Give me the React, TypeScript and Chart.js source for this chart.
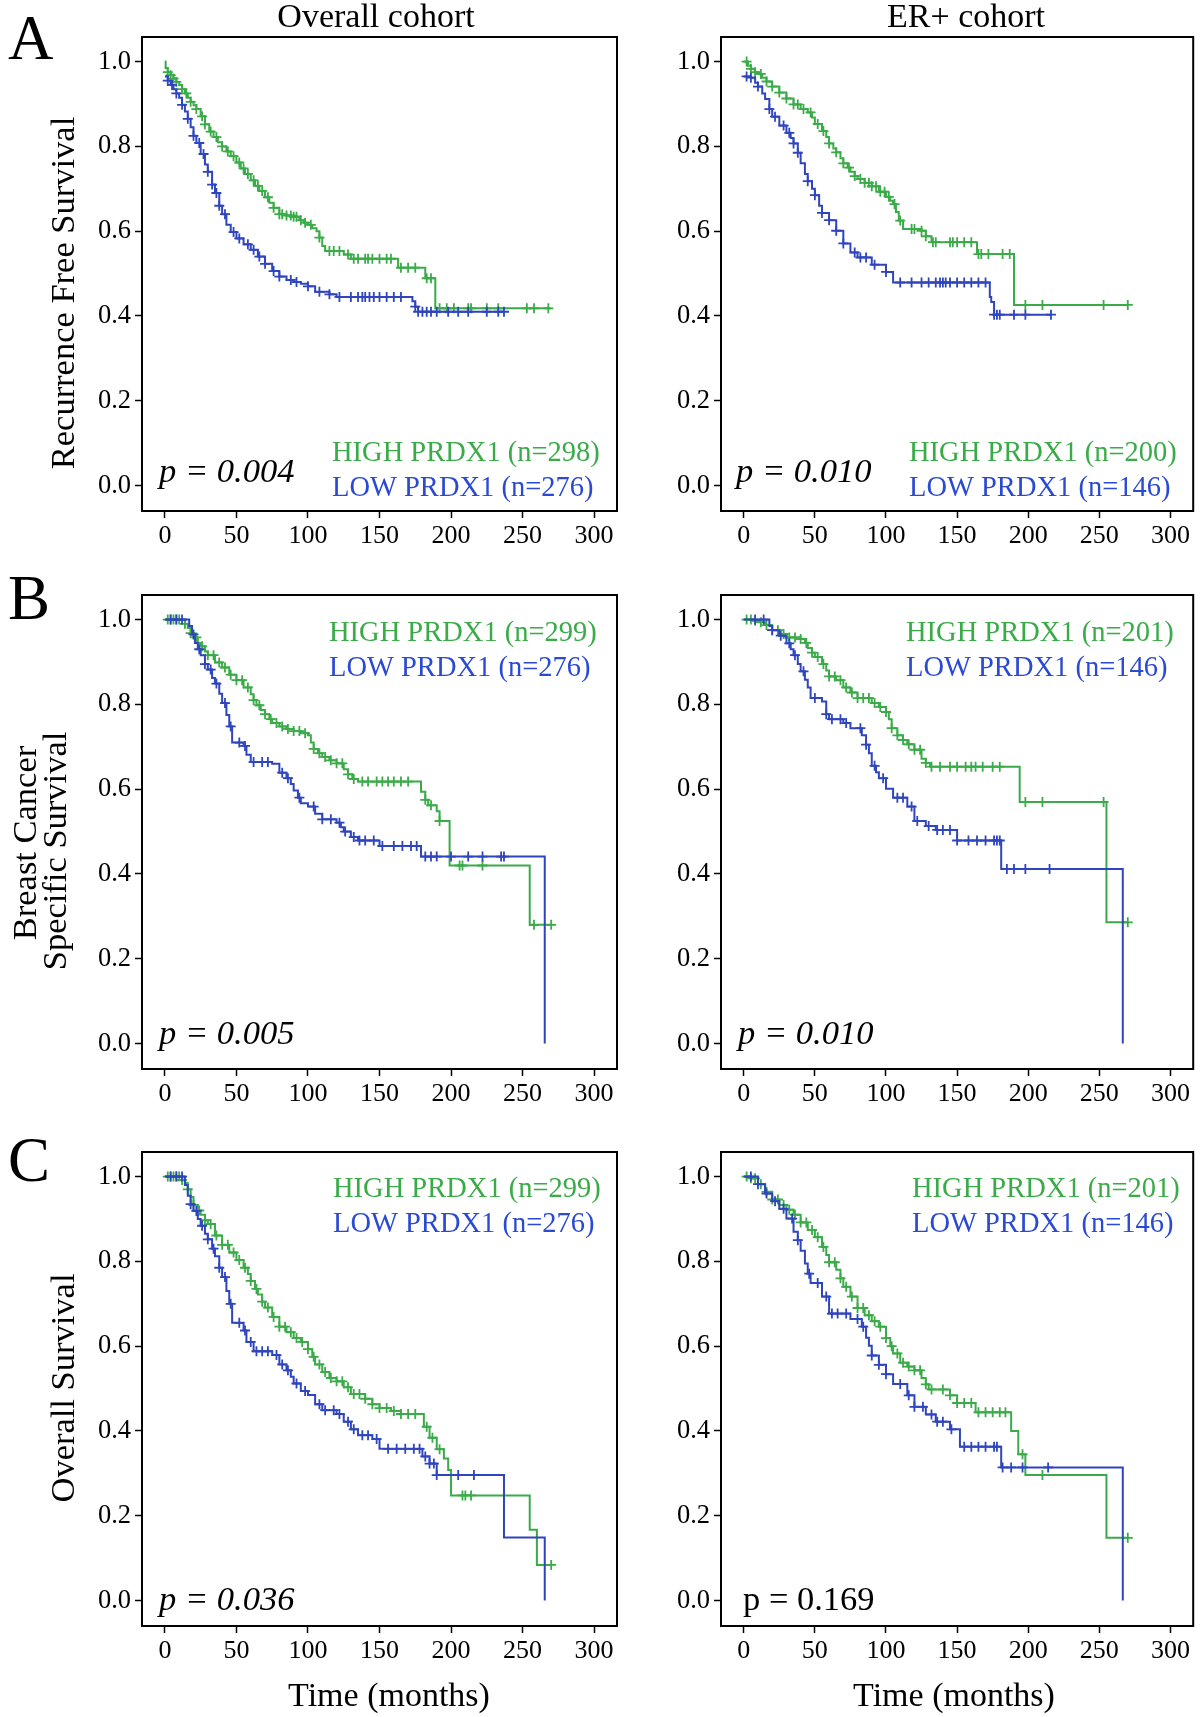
import React, { useEffect, useRef } from 'react';
import { Chart, registerables } from 'chart.js';

Chart.register(...registerables);

// ---------------- DATA ----------------
const xTickValues = [0, 50, 100, 150, 200, 250, 300];
const yTickValues = [0, 0.2, 0.4, 0.6, 0.8, 1.0];
const groupNames = ['HIGH PRDX1', 'LOW PRDX1'];
const columnTitles = ['Overall cohort', 'ER+ cohort'];
const rowLetters = ['A', 'B', 'C'];
const rowYTitles = [['Recurrence Free Survival'], ['Breast Cancer', 'Specific Survival'], ['Overall Survival']];
const xTitle = 'Time (months)';
const nHigh = [[298, 200], [299, 201], [299, 201]];
const nLow = [[276, 146], [276, 146], [276, 146]];
const pValues = [['0.004', '0.010'], ['0.005', '0.010'], ['0.036', '0.169']];
const pItalic = [[true, true], [true, true], [true, false]];

// Recurrence free survival, overall cohort
const rfsAllHigh = [[0,1.0],[0.5,0.985],[2,0.975],[4,0.968],[6,0.96],[8,0.952],[10,0.945],[12,0.935],[14,0.925],[16,0.915],[18,0.905],[20,0.897],[22,0.888],[25,0.871],[28,0.852],[31,0.835],[34,0.822],[37,0.81],[40,0.8],[43,0.788],[46,0.777],[50,0.762],[53,0.748],[56,0.735],[60,0.72],[63,0.707],[66,0.695],[70,0.68],[73,0.667],[76,0.655],[80,0.64],[85,0.637],[90,0.634],[94,0.626],[97,0.62],[100,0.615],[103,0.607],[106,0.6],[108,0.585],[110,0.565],[112,0.553],[122,0.553],[125,0.545],[130,0.535],[162,0.535],[163,0.514],[181,0.514],[182,0.489],[188.5,0.489],[189,0.418],[270,0.418]];
const rfsAllLow = [[0,0.965],[2,0.955],[4,0.945],[6,0.935],[8,0.925],[10,0.915],[12,0.898],[14,0.882],[16,0.865],[18,0.845],[20,0.825],[22,0.808],[25,0.782],[28,0.757],[30,0.74],[33,0.71],[35,0.69],[38,0.66],[40,0.64],[43,0.615],[46,0.598],[50,0.583],[55,0.569],[60,0.556],[65,0.54],[70,0.523],[75,0.506],[80,0.493],[85,0.485],[90,0.48],[95,0.476],[100,0.47],[105,0.457],[115,0.451],[120,0.445],[171,0.445],[173,0.435],[175,0.422],[177,0.41],[237,0.41]];
const rfsAllHighCens = [2,4,6,8,12,15,18,22,26,28,32,36,40,44,48,52,55,58,62,65,68,72,76,80,82,85,88,90,92,95,98,102,108,115,118,122,128,132,135,140,142,145,150,155,158,165,170,175,183,186,192,197,202,212,214,225,233,253,258,268];
const rfsAllLowCens = [2,5,8,12,16,20,24,27,30,33,36,38,42,48,52,58,62,66,70,76,80,88,92,100,108,115,122,130,135,138,140,143,146,150,155,160,165,175,177,180,183,186,190,198,205,212,225,233,237];

// Recurrence free survival, ER+ cohort
const rfsErHigh = [[0,1.0],[3,0.99],[5,0.983],[8,0.975],[10,0.971],[13,0.962],[16,0.953],[20,0.941],[25,0.927],[30,0.913],[35,0.899],[40,0.888],[45,0.88],[48,0.868],[50,0.853],[55,0.836],[58,0.822],[60,0.807],[63,0.795],[65,0.786],[68,0.772],[70,0.76],[73,0.75],[75,0.74],[78,0.73],[80,0.723],[85,0.714],[90,0.706],[95,0.693],[100,0.681],[103,0.672],[105,0.664],[107,0.645],[109,0.625],[112,0.605],[125,0.601],[128,0.588],[132,0.574],[163,0.574],[164,0.546],[189,0.546],[190,0.426],[270,0.426]];
const rfsErLow = [[0,0.965],[5,0.962],[8,0.95],[10,0.941],[13,0.925],[15,0.912],[18,0.888],[20,0.87],[25,0.849],[30,0.832],[33,0.82],[35,0.807],[38,0.785],[40,0.76],[43,0.735],[45,0.718],[48,0.7],[50,0.685],[53,0.66],[55,0.643],[60,0.626],[65,0.601],[70,0.571],[75,0.55],[80,0.538],[90,0.521],[100,0.504],[105,0.479],[172,0.479],[173,0.445],[174,0.433],[176,0.403],[216,0.403]];
const rfsErHighCens = [2,5,8,12,16,20,25,30,35,38,42,47,52,56,60,65,70,74,78,82,85,88,90,93,96,99,102,106,110,118,120,125,128,133,135,145,147,150,155,160,165,167,172,182,187,198,210,253,270];
const rfsErLowCens = [2,5,10,18,22,28,32,35,38,45,50,55,60,65,70,78,82,86,92,100,110,118,125,130,135,138,140,142,145,150,155,160,165,170,176,178,180,190,198,216];

// Breast cancer specific survival, overall cohort
const bcssAllHigh = [[0,1.0],[12,1.0],[14,0.99],[16,0.98],[18,0.968],[20,0.958],[23,0.945],[25,0.937],[28,0.925],[30,0.916],[35,0.899],[40,0.887],[45,0.87],[50,0.857],[55,0.84],[60,0.824],[62,0.81],[64,0.798],[67,0.787],[70,0.777],[73,0.765],[75,0.756],[80,0.748],[85,0.742],[90,0.737],[95,0.732],[100,0.727],[102,0.71],[104,0.695],[107,0.685],[110,0.676],[115,0.668],[120,0.661],[125,0.647],[128,0.635],[131,0.624],[135,0.618],[177,0.618],[179,0.594],[182,0.575],[184,0.562],[190,0.548],[192,0.525],[198,0.525],[199,0.42],[254,0.42],[255,0.28],[270,0.28]];
const bcssAllLow = [[0,1.0],[15,1.0],[17,0.985],[19,0.965],[21,0.945],[23,0.93],[25,0.916],[28,0.895],[30,0.882],[33,0.862],[35,0.849],[38,0.825],[40,0.803],[43,0.775],[45,0.748],[47,0.71],[55,0.702],[57,0.681],[60,0.664],[75,0.66],[80,0.639],[85,0.626],[88,0.612],[90,0.597],[93,0.58],[95,0.567],[100,0.559],[105,0.542],[110,0.529],[120,0.521],[123,0.51],[125,0.5],[130,0.487],[135,0.479],[150,0.466],[178,0.466],[179,0.441],[265,0.441],[265.5,0]];
const bcssAllHighCens = [2,4,6,8,10,14,18,22,26,30,34,38,42,46,50,54,58,62,66,70,74,78,82,86,90,94,98,104,108,112,116,120,124,128,132,138,142,148,152,156,160,165,170,182,186,192,206,208,222,258,270];
const bcssAllLowCens = [4,8,12,20,24,28,32,36,42,46,52,56,62,68,72,82,86,94,104,110,116,122,126,132,136,140,146,152,160,166,172,176,182,186,190,200,212,222,235,237];

// Breast cancer specific survival, ER+ cohort
const bcssErHigh = [[0,1.0],[5,1.0],[8,0.997],[10,0.994],[15,0.987],[20,0.975],[25,0.966],[30,0.958],[40,0.954],[43,0.945],[45,0.933],[48,0.922],[50,0.912],[55,0.895],[58,0.88],[60,0.866],[65,0.857],[70,0.84],[75,0.828],[80,0.815],[90,0.803],[95,0.794],[100,0.782],[102,0.765],[104,0.744],[108,0.727],[112,0.716],[115,0.706],[120,0.693],[125,0.672],[128,0.662],[131,0.653],[193,0.653],[194,0.57],[254,0.57],[255,0.286],[270,0.286]];
const bcssErLow = [[0,1.0],[15,1.0],[18,0.985],[20,0.975],[25,0.962],[30,0.944],[33,0.93],[35,0.916],[38,0.895],[40,0.878],[43,0.858],[45,0.84],[47,0.815],[55,0.807],[58,0.777],[60,0.765],[70,0.756],[75,0.744],[83,0.727],[86,0.705],[88,0.685],[90,0.655],[93,0.64],[95,0.626],[100,0.601],[105,0.58],[115,0.559],[120,0.525],[128,0.513],[135,0.504],[150,0.479],[180,0.479],[181,0.412],[266,0.412],[266.5,0]];
const bcssErHighCens = [2,5,8,12,16,20,24,28,32,36,40,44,48,52,56,60,64,68,72,76,80,84,88,92,96,100,104,108,112,116,120,124,128,132,138,145,150,156,160,163,168,175,180,198,210,253,270];
const bcssErLowCens = [8,14,20,26,32,36,42,50,58,62,68,72,82,86,92,98,108,112,118,122,130,136,140,145,150,158,164,170,176,178,180,185,190,198,215];

// Overall survival, overall cohort
const osAllHigh = [[0,1.0],[10,1.0],[12,0.992],[14,0.985],[16,0.97],[18,0.952],[20,0.933],[23,0.92],[25,0.91],[28,0.897],[30,0.888],[35,0.861],[40,0.839],[45,0.821],[50,0.803],[55,0.785],[58,0.77],[60,0.754],[63,0.735],[65,0.722],[68,0.705],[70,0.691],[75,0.669],[80,0.646],[85,0.633],[90,0.619],[95,0.61],[100,0.593],[103,0.575],[105,0.557],[110,0.539],[115,0.525],[120,0.517],[125,0.503],[130,0.487],[140,0.476],[145,0.463],[150,0.454],[158,0.447],[165,0.44],[179,0.44],[181,0.41],[185,0.384],[190,0.357],[195,0.335],[198,0.308],[200,0.248],[254,0.248],[255,0.167],[259,0.167],[260,0.084],[270,0.084]];
const osAllLow = [[0,1.0],[12,1.0],[14,0.98],[16,0.955],[18,0.935],[20,0.919],[23,0.9],[25,0.884],[28,0.865],[30,0.852],[33,0.83],[35,0.812],[38,0.785],[40,0.763],[43,0.73],[45,0.7],[47,0.655],[55,0.637],[57,0.61],[62,0.588],[75,0.579],[80,0.557],[85,0.543],[88,0.528],[90,0.512],[95,0.494],[100,0.485],[105,0.463],[110,0.449],[120,0.44],[125,0.422],[130,0.404],[135,0.39],[145,0.381],[150,0.358],[177,0.358],[180,0.34],[185,0.323],[190,0.296],[236,0.296],[237,0.149],[265,0.149],[265.5,0]];
const osAllHighCens = [2,4,6,8,10,12,16,20,24,28,32,36,40,44,48,52,56,60,64,68,72,76,80,84,88,92,96,100,104,108,112,116,120,124,128,132,136,140,145,150,155,160,165,170,175,183,187,192,208,210,214,270];
const osAllLowCens = [4,8,12,18,22,26,30,34,38,42,46,52,56,60,64,68,72,78,82,86,92,98,108,112,118,122,128,132,138,142,148,156,162,168,174,178,182,185,188,190,205,216];

// Overall survival, ER+ cohort
const osErHigh = [[0,1.0],[5,0.996],[10,0.982],[15,0.964],[20,0.946],[25,0.933],[30,0.922],[35,0.91],[40,0.892],[45,0.874],[50,0.857],[55,0.834],[58,0.815],[60,0.798],[65,0.78],[68,0.76],[70,0.74],[75,0.717],[80,0.69],[85,0.673],[90,0.659],[95,0.646],[100,0.619],[103,0.6],[105,0.583],[110,0.561],[115,0.552],[120,0.543],[125,0.525],[128,0.51],[130,0.498],[145,0.484],[150,0.466],[163,0.444],[186,0.444],[188,0.4],[193,0.345],[198,0.296],[254,0.296],[255,0.148],[270,0.148]];
const osErLow = [[0,1.0],[8,1.0],[10,0.982],[15,0.96],[20,0.942],[25,0.924],[30,0.901],[35,0.87],[38,0.85],[40,0.825],[43,0.795],[45,0.771],[47,0.749],[55,0.717],[60,0.677],[75,0.664],[83,0.646],[86,0.62],[88,0.601],[90,0.578],[95,0.556],[100,0.534],[105,0.511],[115,0.484],[120,0.457],[128,0.439],[135,0.422],[145,0.404],[152,0.363],[180,0.363],[181,0.314],[266,0.314],[266.5,0]];
const osErHighCens = [2,5,8,12,16,20,24,28,32,36,40,44,48,52,56,60,64,68,72,76,80,84,88,92,96,100,104,108,112,116,120,124,128,132,140,145,150,155,160,165,170,175,180,184,196,210,270];
const osErLowCens = [5,10,16,22,28,34,38,46,52,58,62,66,72,80,84,90,95,100,110,116,120,126,132,136,140,146,155,160,165,170,176,178,182,188,196,214];

const curves = [
  [[rfsAllHigh, rfsAllLow, rfsAllHighCens, rfsAllLowCens], [rfsErHigh, rfsErLow, rfsErHighCens, rfsErLowCens]],
  [[bcssAllHigh, bcssAllLow, bcssAllHighCens, bcssAllLowCens], [bcssErHigh, bcssErLow, bcssErHighCens, bcssErLowCens]],
  [[osAllHigh, osAllLow, osAllHighCens, osAllLowCens], [osErHigh, osErLow, osErHighCens, osErLowCens]],
];

// ---------------- STYLE / LAYOUT ----------------
const GREEN = '#3aab48';
const BLUE = '#2f45bd';
const BLUE_TEXT = '#2b4ad4';
const FONT = "'Liberation Serif', 'Times New Roman', Times, serif";

const colGeom = [
  { left: 0, width: 630, boxLeft: 142, boxRight: 617, titleX: 376, xTitleX: 389 },
  { left: 630, width: 570, boxLeft: 721, boxRight: 1196, titleX: 966, xTitleX: 954 },
];
const rowGeom = [
  { top: 0, height: 560, boxTop: 37, boxBottom: 511, letterY: 59, pY: 482, legY: [461, 496] },
  { top: 560, height: 560, boxTop: 595, boxBottom: 1069, letterY: 619, pY: 1044, legY: [641, 676] },
  { top: 1120, height: 597, boxTop: 1152, boxBottom: 1626, letterY: 1181, pY: 1610, legY: [1197, 1232] },
];
const legendX = [[332, 909], [329, 906], [333, 912]];
const pX = [[159, 736], [159, 738], [159, 743]];
const yTitleGeom = [
  [{ x: 74, y: 293 }],
  [{ x: 36, y: 843 }, { x: 66, y: 851 }],
  [{ x: 74, y: 1388 }],
];

type TextItem = { text: string; x: number; y: number; size: number; color?: string; align?: CanvasTextAlign; italic?: boolean; rotate?: boolean };

function survivalAt(steps: number[][], t: number): number {
  let s = steps[0][1];
  for (const [x, y] of steps) {
    if (x <= t) s = y; else break;
  }
  return s;
}

function buildTexts(r: number, c: number, ox: number, oy: number): TextItem[] {
  const items: TextItem[] = [];
  const rg = rowGeom[r];
  if (r === 0) {
    items.push({ text: columnTitles[c], x: colGeom[c].titleX, y: 27, size: 34, align: 'center' });
  }
  if (c === 0) {
    items.push({ text: rowLetters[r], x: 8, y: rg.letterY, size: 63, align: 'left' });
    rowYTitles[r].forEach((t, i) => {
      items.push({ text: t, x: yTitleGeom[r][i].x, y: yTitleGeom[r][i].y, size: 34.5, align: 'center', rotate: true });
    });
  }
  if (r === 2) {
    items.push({ text: xTitle, x: colGeom[c].xTitleX, y: 1706, size: 34, align: 'center' });
  }
  items.push({ text: `${groupNames[0]} (n=${nHigh[r][c]})`, x: legendX[r][c], y: rg.legY[0], size: 28.5, color: GREEN, align: 'left' });
  items.push({ text: `${groupNames[1]} (n=${nLow[r][c]})`, x: legendX[r][c], y: rg.legY[1], size: 28.5, color: BLUE_TEXT, align: 'left' });
  items.push({ text: `p = ${pValues[r][c]}`, x: pX[r][c], y: rg.pY, size: 34.5, italic: pItalic[r][c], align: 'left' });
  return items.map((it) => ({ ...it, x: it.x - ox, y: it.y - oy }));
}

function makeConfig(r: number, c: number): any {
  const cg = colGeom[c];
  const rg = rowGeom[r];
  const [hi, lo, hiC, loC] = curves[r][c] as any;
  const texts = buildTexts(r, c, cg.left, rg.top);

  const boxPlugin = {
    id: 'boxAndText',
    afterDraw(chart: any) {
      const { ctx, chartArea } = chart;
      ctx.save();
      ctx.strokeStyle = '#000';
      ctx.lineWidth = 2;
      ctx.strokeRect(chartArea.left, chartArea.top, chartArea.right - chartArea.left, chartArea.bottom - chartArea.top);
      for (const it of texts) {
        ctx.save();
        ctx.font = `${it.italic ? 'italic ' : ''}${it.size}px ${FONT}`;
        ctx.fillStyle = it.color || '#000';
        ctx.textAlign = it.align || 'left';
        ctx.textBaseline = 'alphabetic';
        ctx.translate(it.x, it.y);
        if (it.rotate) ctx.rotate(-Math.PI / 2);
        ctx.fillText(it.text, 0, 0);
        ctx.restore();
      }
      ctx.restore();
    },
  };

  const toPts = (arr: number[][]) => arr.map(([x, y]) => ({ x, y }));
  const cens = (steps: number[][], times: number[]) => times.map((t) => ({ x: t, y: survivalAt(steps, t) }));

  const lineDs = (data: any, color: string) => ({
    type: 'line', data, borderColor: color, backgroundColor: color, borderWidth: 2, stepped: true,
    pointRadius: 0, pointHoverRadius: 0, fill: false, tension: 0,
  });
  const censDs = (data: any, color: string) => ({
    type: 'line', data, showLine: false, borderColor: color, backgroundColor: color,
    pointStyle: 'cross', pointRadius: 5, pointBorderWidth: 1.8, pointHoverRadius: 0,
  });

  const yW = cg.boxLeft - cg.left;
  const xH = rg.top + rg.height - rg.boxBottom;

  return {
    type: 'line',
    data: {
      datasets: [
        lineDs(toPts(lo), BLUE),
        censDs(cens(lo, loC), BLUE),
        lineDs(toPts(hi), GREEN),
        censDs(cens(hi, hiC), GREEN),
      ],
    },
    options: {
      responsive: false,
      maintainAspectRatio: false,
      animation: false,
      events: [],
      layout: { padding: { left: 0, right: cg.left + cg.width - cg.boxRight, top: rg.boxTop - rg.top, bottom: 0 } },
      plugins: { legend: { display: false }, tooltip: { enabled: false }, title: { display: false } },
      scales: {
        x: {
          type: 'linear', min: -16, max: 316,
          afterBuildTicks: (s: any) => { s.ticks = xTickValues.map((v) => ({ value: v })); },
          afterFit: (s: any) => { s.height = xH; },
          ticks: { autoSkip: false, maxRotation: 0, padding: 3, color: '#000', font: { family: FONT, size: 26 }, callback: (v: any) => String(v) },
          grid: { display: true, drawOnChartArea: false, drawTicks: true, tickLength: 7, tickWidth: 1.5, tickColor: '#000', color: '#000' },
          border: { display: false },
        },
        y: {
          type: 'linear', min: -0.06, max: 1.058,
          afterBuildTicks: (s: any) => { s.ticks = yTickValues.map((v) => ({ value: v })); },
          afterFit: (s: any) => { s.width = yW; },
          ticks: { autoSkip: false, padding: 4, color: '#000', font: { family: FONT, size: 26.5 }, callback: (v: any) => Number(v).toFixed(1) },
          grid: { display: true, drawOnChartArea: false, drawTicks: true, tickLength: 7, tickWidth: 1.5, tickColor: '#000', color: '#000' },
          border: { display: false },
        },
      },
    },
    plugins: [boxPlugin],
  };
}

function Panel({ r, c }: { r: number; c: number }) {
  const ref = useRef<HTMLCanvasElement>(null);
  const cg = colGeom[c];
  const rg = rowGeom[r];
  useEffect(() => {
    if (!ref.current) return;
    const chart = new Chart(ref.current, makeConfig(r, c));
    return () => chart.destroy();
  }, [r, c]);
  return (
    <canvas
      ref={ref}
      width={cg.width}
      height={rg.height}
      style={{ position: 'absolute', left: cg.left, top: rg.top, width: cg.width, height: rg.height, display: 'block' }}
    />
  );
}

export default function App() {
  const cells: React.ReactNode[] = [];
  for (let r = 0; r < 3; r++) for (let c = 0; c < 2; c++) cells.push(<Panel key={`${r}-${c}`} r={r} c={c} />);
  return (
    <div style={{ position: 'absolute', left: 0, top: 0, width: 1200, height: 1717, background: '#fff', overflow: 'hidden' }}>
      {cells}
    </div>
  );
}
